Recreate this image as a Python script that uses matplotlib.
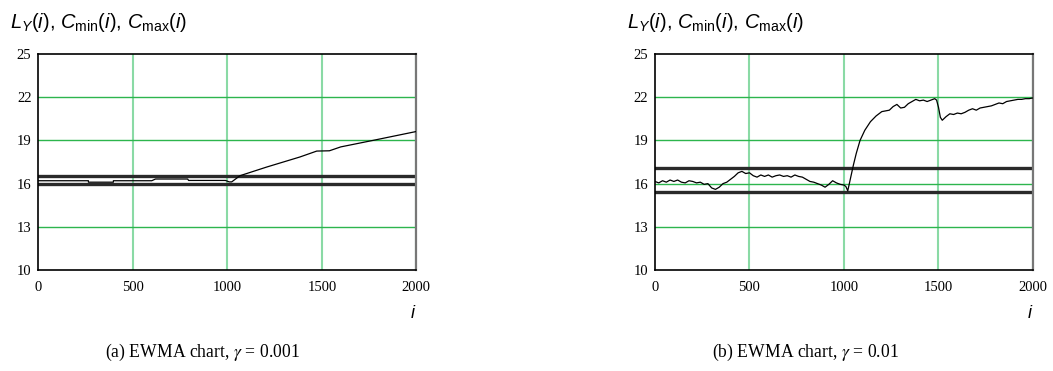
import numpy as np
import matplotlib.pyplot as plt

plt.rcParams['mathtext.fontset'] = 'custom'
plt.rcParams['mathtext.rm'] = 'Liberation Sans'
plt.rcParams['mathtext.it'] = 'Liberation Sans:italic'

# (a) gamma = 0.001
a_i = [0, 265, 265, 397, 397, 600, 620, 790, 795, 990, 1010, 1023, 1067, 1208,
       1384, 1473, 1540, 1600, 1770, 2000]
a_L = [16.2, 16.2, 16.1, 16.1, 16.2, 16.2, 16.32, 16.32, 16.22, 16.22, 16.12,
       16.12, 16.55, 17.15, 17.85, 18.26, 18.28, 18.55, 19.0, 19.62]
a_cmin, a_cmax = 15.95, 16.5

# (b) gamma = 0.01
b_i = [0, 20, 40, 60, 80, 100, 120, 140, 160, 180, 200, 220, 240, 260, 280,
       300, 320, 340, 360, 380, 400, 420, 440, 460, 480, 500, 520, 540, 560,
       580, 600, 620, 640, 660, 680, 700, 720, 740, 760, 780, 800, 820, 840,
       860, 880, 900, 920, 940, 960, 980, 1000, 1010, 1020, 1035, 1050, 1065,
       1085, 1110, 1140, 1170, 1200, 1220, 1240, 1260, 1280, 1300, 1320, 1340,
       1360, 1380, 1400, 1420, 1440, 1460, 1480, 1490, 1500, 1510, 1520, 1540,
       1560, 1580, 1600, 1620, 1640, 1660, 1680, 1700, 1720, 1740, 1760, 1780,
       1800, 1820, 1840, 1860, 1880, 1900, 1920, 1940, 1960, 1980, 2000]
b_L = [16.15, 16.05, 16.2, 16.1, 16.25, 16.15, 16.25, 16.1, 16.05, 16.2, 16.15,
       16.05, 16.1, 15.95, 16.0, 15.7, 15.6, 15.75, 16.0, 16.1, 16.3, 16.5,
       16.75, 16.85, 16.7, 16.75, 16.55, 16.45, 16.6, 16.5, 16.6, 16.45, 16.55,
       16.6, 16.5, 16.55, 16.45, 16.6, 16.5, 16.45, 16.3, 16.15, 16.1, 16.0,
       15.9, 15.75, 15.95, 16.2, 16.05, 15.95, 15.9, 15.8, 15.5, 16.4, 17.3,
       18.1, 19.0, 19.7, 20.3, 20.7, 21.0, 21.05, 21.1, 21.35, 21.5, 21.25,
       21.3, 21.55, 21.7, 21.85, 21.75, 21.8, 21.7, 21.8, 21.9, 21.8, 21.3,
       20.6, 20.4, 20.65, 20.85, 20.8, 20.9, 20.85, 20.95, 21.1, 21.2, 21.1,
       21.25, 21.3, 21.35, 21.4, 21.5, 21.6, 21.55, 21.7, 21.75, 21.8, 21.85,
       21.85, 21.9, 21.9, 21.95]
b_cmin, b_cmax = 15.4, 17.1

xticks = [0, 500, 1000, 1500, 2000]
yticks = [10, 13, 16, 19, 22, 25]
captions = [r'(a) EWMA chart, $\gamma$ = 0.001', r'(b) EWMA chart, $\gamma$ = 0.01']
ylab = r'$L_Y(i)$, $C_{\mathrm{min}}(i)$, $C_{\mathrm{max}}(i)$'

fig = plt.figure(figsize=(10.53, 3.71), dpi=100)

panels = [(a_i, a_L, a_cmin, a_cmax), (b_i, b_L, b_cmin, b_cmax)]
lefts = [0.0364, 0.622]
lab_x = [0.0095, 0.595]
i_x = [0.392, 0.978]
cap_x = [0.192, 0.765]

for k, (xi, L, cmin, cmax) in enumerate(panels):
    ax = fig.add_axes([lefts[k], 0.2722, 0.359, 0.5822])
    ax.set_xlim(0, 2000)
    ax.set_ylim(10, 25)
    ax.set_xticks(xticks)
    ax.set_yticks(yticks)
    for x in xticks[1:]:
        ax.axvline(x, color='#8adaa5', lw=1.5, zorder=1)
    for y in yticks[1:-1]:
        ax.axhline(y, color='#2db54d', lw=1.0, zorder=1)
    ax.axhline(cmax, color='#2a2a2a', lw=2.4, zorder=2)
    ax.axhline(cmin, color='#2a2a2a', lw=2.4, zorder=2)
    ax.plot(xi, L, color='black', lw=0.9, zorder=3)
    ax.tick_params(length=0, labelsize=10.5)
    ax.tick_params(axis='y', pad=5)
    ax.tick_params(axis='x', pad=8)
    for lab in ax.get_xticklabels() + ax.get_yticklabels():
        lab.set_fontfamily('Liberation Serif')
    for s in ['left', 'bottom', 'top']:
        ax.spines[s].set_color('black')
        ax.spines[s].set_linewidth(1.2)
    ax.spines['right'].set_color('#777777')
    ax.spines['right'].set_linewidth(1.6)

    fig.text(lab_x[k], 0.94, ylab, fontsize=14.5, family='Liberation Sans',
             va='center', ha='left')
    fig.text(i_x[k], 0.156, 'i', fontsize=13, family='Liberation Sans',
             style='italic', va='center', ha='center')
    fig.text(cap_x[k], 0.051, captions[k], fontsize=12.7, family='Liberation Serif',
             math_fontfamily='stix', va='center', ha='center')

plt.savefig('out.png', dpi=100)
